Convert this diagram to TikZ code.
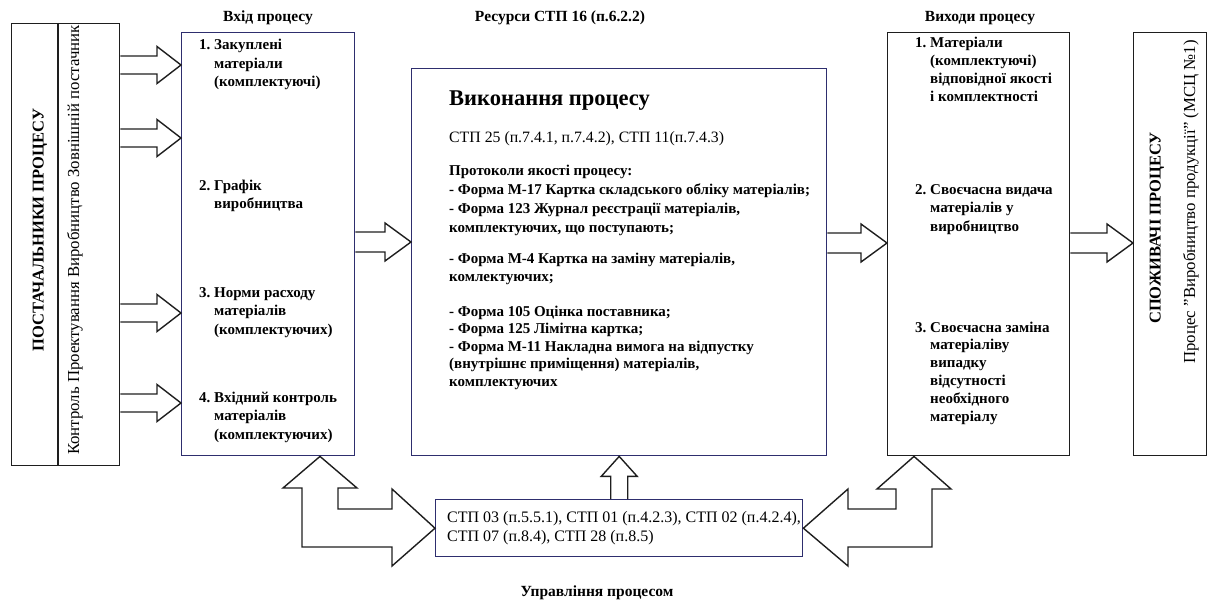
\documentclass[tikz,border=0pt]{standalone}
\usepackage{fontspec}
\setmainfont{Liberation Serif}
\usetikzlibrary{calc}
\definecolor{navy}{RGB}{46,46,110}
\definecolor{ink}{RGB}{30,30,30}
\tikzset{
  box/.style={draw=ink, line width=1.4pt, inner sep=0pt, anchor=north west},
  nbox/.style={box, draw=navy},
  blk/.style={draw=ink, line width=1.4pt, line join=miter},
  itm/.style={anchor=base west, align=left, inner sep=0pt, font=\fontsize{15}{18.5}\selectfont\bfseries},
  txt/.style={anchor=base west, align=left, inner sep=0pt, font=\fontsize{15.8}{19}\selectfont},
  ttl/.style={inner sep=0pt, font=\fontsize{15.5}{17}\selectfont\bfseries},
  rbold/.style={rotate=90, inner sep=0pt, font=\fontsize{16.5}{18}\selectfont\bfseries},
  rtxt/.style={rotate=90, inner sep=0pt, font=\fontsize{16.8}{18}\selectfont},
}
% block arrow from the east side of #1 to the west side of #2 at height #3
\newcommand\harr[6]{\draw[blk] ($(#1.east|-0,#3)+(0,-#4)$) -- ($(#2.west|-0,#3)+(-#6,-#4)$) -- ($(#2.west|-0,#3)+(-#6,-#5)$) -- (#2.west|-0,#3) -- ($(#2.west|-0,#3)+(-#6,#5)$) -- ($(#2.west|-0,#3)+(-#6,#4)$) -- ($(#1.east|-0,#3)+(0,#4)$);}
\newcommand\ind{\phantom{1.~}}
\begin{document}
\begin{tikzpicture}[x=1pt,y=-1pt]
\useasboundingbox (0,0) rectangle (1208,602);
% boxes
\node[box, minimum width=108pt, minimum height=442pt] (sup) at (11,23) {};
\draw[ink, line width=1.4pt] (sup.north -| 58,0) -- (sup.south -| 58,0);
\node[nbox, minimum width=173pt, minimum height=423pt] (inp) at (181,32) {};
\node[nbox, minimum width=415pt, minimum height=387pt] (mid) at (411,68) {};
\node[box, minimum width=182pt, minimum height=423pt] (out) at (887,32) {};
\node[box, minimum width=73pt, minimum height=423pt] (con) at (1133,32) {};
\node[nbox, minimum width=367pt, minimum height=57pt] (ctl) at (435,499) {};
% titles
\node[ttl] (tin) at (268,18) {Вхід процесу};
\node[ttl] (tres) at (560,18) {Ресурси СТП 16 (п.6.2.2)};
\node[ttl] (tout) at (980,18) {Виходи процесу};
\node[ttl] (tctl) at (597,593) {Управління процесом};
% rotated texts
\node[rbold] (supt) at (40,230) {ПОСТАЧАЛЬНИКИ ПРОЦЕСУ};
\node[rtxt] (supl) at (75,240) {Контроль Проектування Виробництво Зовнішній постачник};
\node[rbold] (cont) at (1157,228) {СПОЖИВАЧІ ПРОЦЕСУ};
\node[rtxt] (conl) at (1191,202) {Процес "Виробництво продукції" (МСЦ №1)};
% input items (anchor = baseline of the last line)
\node[itm] (i1) at (199,87) {1.~Закуплені\\\ind матеріали\\\ind (комплектуючі)};
\node[itm] (i2) at (199,208.5) {2.~Графік\\\ind виробництва};
\node[itm] (i3) at (199,334) {3.~Норми расходу\\\ind матеріалів\\\ind (комплектуючих)};
\node[itm] (i4) at (199,439) {4.~Вхідний контроль\\\ind матеріалів\\\ind (комплектуючих)};
% middle text
\node[anchor=base west, inner sep=0pt, font=\fontsize{22.5}{26}\selectfont\bfseries] (m0) at (449,105) {Виконання процесу};
\node[txt] (m1) at (449,142) {СТП 25 (п.7.4.1, п.7.4.2), СТП 11(п.7.4.3)};
\node[itm, font=\fontsize{15}{19}\selectfont\bfseries] (m2) at (449,232) {Протоколи якості процесу:\\- Форма М-17 Картка складського обліку матеріалів;\\- Форма 123 Журнал реєстрації матеріалів,\\комплектуючих, що поступають;};
\node[itm] (m3) at (449,281.5) {- Форма М-4 Картка на заміну матеріалів,\\комлектуючих;};
\node[itm, font=\fontsize{15}{17.6}\selectfont\bfseries] (m4) at (449,386.4) {- Форма 105 Оцінка поставника;\\- Форма 125 Лімітна картка;\\- Форма М-11 Накладна вимога на відпустку\\(внутрішнє приміщення) матеріалів,\\комплектуючих};
% output items
\node[itm, font=\fontsize{15}{18.3}\selectfont\bfseries] (o1) at (915,102) {1.~Матеріали\\\ind (комплектуючі)\\\ind відповідної якості\\\ind і комплектності};
\node[itm] (o2) at (915,231) {2.~Своєчасна видача\\\ind матеріалів у\\\ind виробництво};
\node[itm, font=\fontsize{15}{17.8}\selectfont\bfseries] (o3) at (915,421) {3.~Своєчасна заміна\\\ind матеріаліву\\\ind випадку\\\ind відсутності\\\ind необхідного\\\ind матеріалу};
% control text
\node[txt, anchor=west, font=\fontsize{16}{19}\selectfont] (ct) at ($(ctl.west)+(12,0)$) {СТП 03 (п.5.5.1), СТП 01 (п.4.2.3), СТП 02 (п.4.2.4),\\СТП 07 (п.8.4), СТП 28 (п.8.5)};
% block arrows
\harr{sup}{inp}{65}{9}{18.5}{24}
\harr{sup}{inp}{138}{9}{18.5}{24}
\harr{sup}{inp}{313}{9}{18.5}{24}
\harr{sup}{inp}{403}{9}{18.5}{24}
\harr{inp}{mid}{242}{10}{19}{26}
\harr{mid}{out}{243}{10}{19}{26}
\harr{out}{con}{243}{10}{19}{26}
\draw[blk] ($(ctl.north)+(-8.5,0)$) -- ($(mid.south)+(-8.5,20)$) -- ($(mid.south)+(-18,20)$) -- (mid.south) -- ($(mid.south)+(18,20)$) -- ($(mid.south)+(8.5,20)$) -- ($(ctl.north)+(8.5,0)$);
\draw[blk] (inp.south -| 320,0) -- (357,488) -- (338,488) -- (338,509) -- (392,509) -- (392,489) -- (ctl.west) -- (392,566) -- (392,547) -- (302,547) -- (302,488) -- (283,488) -- cycle;
\draw[blk] (out.south -| 914,0) -- (951,489) -- (932,489) -- (932,547) -- (848,547) -- (848,566) -- (ctl.east) -- (848,489) -- (848,509) -- (896,509) -- (896,489) -- (877,489) -- cycle;
\end{tikzpicture}
\end{document}
